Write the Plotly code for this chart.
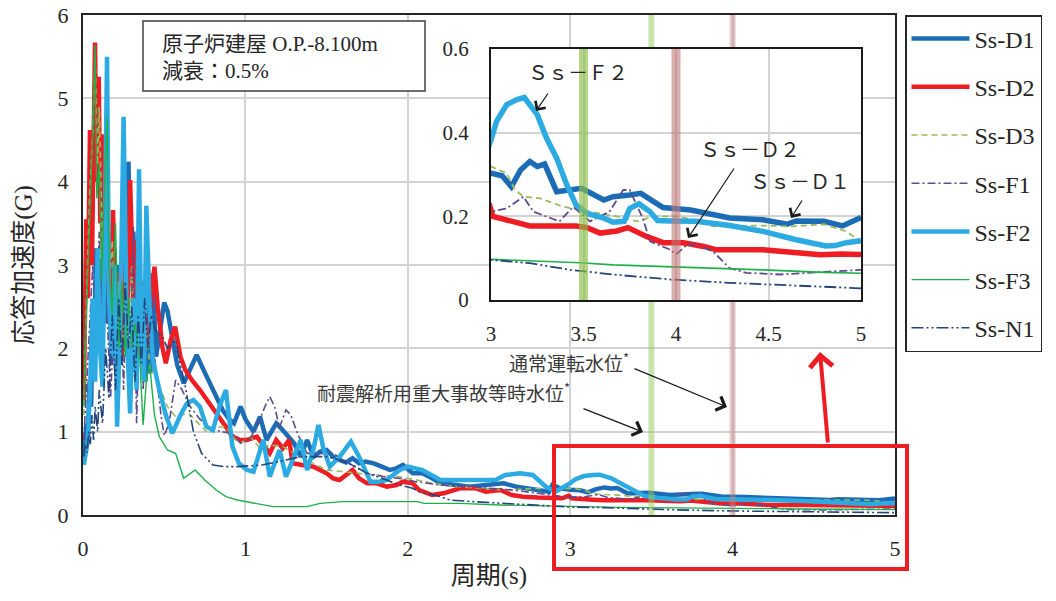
import plotly.graph_objects as go

# ---------------- data ----------------
SERIES_NAMES = ["Ss-D1", "Ss-D2", "Ss-D3", "Ss-F1", "Ss-F2", "Ss-F3", "Ss-N1"]

D1_T = [0.01, 0.02, 0.03, 0.04, 0.05, 0.06, 0.07, 0.08, 0.09, 0.10, 0.115, 0.13, 0.145, 0.16, 0.175,
        0.19, 0.205, 0.22, 0.235, 0.25, 0.265, 0.28, 0.295, 0.31, 0.325, 0.34, 0.355, 0.37, 0.385, 0.40,
        0.415, 0.43, 0.45, 0.47, 0.50, 0.52, 0.55, 0.58, 0.62, 0.66, 0.70, 0.74, 0.78, 0.82, 0.86, 0.90,
        0.93, 0.97, 1.00, 1.03, 1.05, 1.09, 1.13, 1.16, 1.19, 1.22, 1.26, 1.30, 1.34, 1.38, 1.42, 1.46,
        1.50, 1.54, 1.58, 1.62, 1.66, 1.70, 1.74, 1.79, 1.84, 1.89, 1.93, 1.97, 2.03, 2.09, 2.15, 2.20,
        2.30, 2.38, 2.48, 2.59, 2.67, 2.75, 2.81, 2.87, 2.89, 2.94,
        3.00, 3.06, 3.11, 3.16, 3.21, 3.25, 3.29, 3.355, 3.43, 3.49, 3.61, 3.66, 3.75, 3.81, 3.93, 4.08,
        4.29, 4.47, 4.60, 4.65, 4.80, 4.90, 5.00]
D1_G = [0.72, 1.1, 0.9, 1.6, 1.3, 2.4, 1.9, 3.2, 2.2, 3.0, 2.0, 3.4, 2.3, 3.1, 1.8,
        3.2, 2.2, 3.0, 1.9, 3.3, 2.6, 4.24, 2.8, 3.4, 2.2, 3.0, 1.9, 2.8, 1.6, 2.7,
        1.7, 2.9, 1.9, 2.2, 2.55, 2.45, 2.1, 1.8, 1.58, 1.75, 1.92, 1.75, 1.58, 1.42, 1.26, 1.15,
        1.1, 1.3, 1.15, 1.06, 1.0, 1.18, 0.9, 1.0, 1.1, 1.04, 0.94, 0.86, 0.70, 0.90, 0.70, 0.76,
        0.78, 0.70, 0.66, 0.63, 0.68, 0.62, 0.64, 0.62, 0.58, 0.54, 0.56, 0.60, 0.50, 0.50, 0.44, 0.38,
        0.36, 0.34, 0.36, 0.38, 0.34, 0.32, 0.30, 0.28, 0.36, 0.32,
        0.303, 0.297, 0.271, 0.311, 0.331, 0.319, 0.325, 0.259, 0.263, 0.267, 0.239, 0.247, 0.251, 0.255,
        0.221, 0.215, 0.196, 0.192, 0.181, 0.189, 0.188, 0.177, 0.197]

D2_T = [0.005, 0.02, 0.03, 0.043, 0.055, 0.074, 0.085, 0.097, 0.106, 0.115, 0.13, 0.15, 0.17, 0.185,
        0.20, 0.22, 0.24, 0.26, 0.275, 0.29, 0.31, 0.33, 0.35, 0.37, 0.39, 0.42, 0.44, 0.46, 0.49, 0.51,
        0.54, 0.567, 0.60, 0.63, 0.67, 0.72, 0.78, 0.84, 0.88, 0.92, 0.97, 1.01, 1.07, 1.11, 1.15, 1.19,
        1.23, 1.27, 1.29, 1.35, 1.42, 1.46, 1.50, 1.54, 1.58, 1.62, 1.66, 1.70, 1.75, 1.81, 1.87, 1.93,
        1.97, 2.03, 2.07, 2.15, 2.22, 2.32, 2.42, 2.48, 2.57, 2.64, 2.71, 2.80, 2.88, 2.95, 2.99,
        3.01, 3.14, 3.21, 3.46, 3.52, 3.59, 3.68, 3.74, 3.84, 3.93, 4.04, 4.15, 4.22, 4.47, 4.62, 4.78,
        4.89, 5.00]
D2_G = [1.38, 3.55, 2.6, 4.62, 3.0, 5.67, 4.0, 5.26, 3.5, 4.57, 2.6, 3.5, 2.4, 3.66,
        2.2, 2.9, 1.9, 3.2, 2.4, 4.02, 2.6, 3.3, 1.9, 2.8, 2.0, 2.6, 2.98, 2.5, 2.0, 1.82,
        2.1, 2.26, 1.9, 1.74, 1.62, 1.5, 1.34, 1.18, 1.06, 0.94, 0.9, 0.9, 0.94, 0.84, 0.74, 0.9,
        0.8, 0.9, 0.62, 0.6, 0.58, 0.54, 0.5, 0.44, 0.42, 0.48, 0.54, 0.44, 0.38, 0.38, 0.34, 0.36,
        0.40, 0.38, 0.30, 0.24, 0.26, 0.32, 0.32, 0.28, 0.30, 0.24, 0.22, 0.21, 0.20, 0.20, 0.23,
        0.20, 0.184, 0.177, 0.177, 0.173, 0.160, 0.165, 0.173, 0.152, 0.137, 0.137, 0.128, 0.120, 0.120,
        0.113, 0.108, 0.110, 0.109]

D3_T = [0.005, 0.02, 0.04, 0.06, 0.075, 0.09, 0.10, 0.12, 0.14, 0.16, 0.18, 0.20, 0.22, 0.24, 0.26,
        0.28, 0.30, 0.32, 0.34, 0.36, 0.38, 0.40, 0.42, 0.44, 0.48, 0.52, 0.57, 0.65, 0.72, 0.77, 0.82,
        0.88, 0.93, 0.97, 1.03, 1.09, 1.15, 1.23, 1.30, 1.34, 1.42, 1.50, 1.60, 1.70, 1.80, 1.95, 2.05,
        2.16, 2.30, 2.45, 2.60, 2.79, 2.90,
        3.00, 3.085, 3.13, 3.175, 3.265, 3.39, 3.535, 3.68, 3.79, 3.88, 4.02, 4.20, 4.47, 4.62, 4.80,
        4.92, 5.00]
D3_G = [1.2, 2.5, 3.8, 4.6, 5.5, 4.2, 4.9, 3.2, 4.0, 2.6, 3.3, 2.2, 2.8, 1.8, 2.9,
        2.1, 3.0, 1.9, 2.6, 1.7, 2.4, 2.0, 1.7, 1.74, 1.5, 1.3, 1.18, 1.22, 1.08, 0.98, 1.05,
        1.06, 0.92, 0.86, 0.94, 0.80, 0.84, 0.82, 0.74, 0.70, 0.62, 0.54, 0.52, 0.50, 0.48, 0.46, 0.42,
        0.38, 0.34, 0.32, 0.30, 0.32, 0.31,
        0.319, 0.303, 0.263, 0.247, 0.243, 0.223, 0.211, 0.200, 0.188, 0.200, 0.200, 0.176, 0.178, 0.176,
        0.181, 0.164, 0.140]

F1_T = [0.005, 0.02, 0.04, 0.06, 0.08, 0.10, 0.12, 0.14, 0.17, 0.19, 0.21, 0.23, 0.25, 0.27, 0.29,
        0.31, 0.33, 0.35, 0.37, 0.39, 0.41, 0.43, 0.46, 0.48, 0.50, 0.53, 0.57, 0.61, 0.66, 0.72, 0.78,
        0.85, 0.92, 0.97, 1.03, 1.08, 1.12, 1.15, 1.18, 1.21, 1.25, 1.28, 1.32, 1.38, 1.46, 1.54, 1.60,
        1.66, 1.75, 1.85, 1.95, 2.05, 2.20, 2.35, 2.50, 2.65, 2.80, 2.90,
        3.00, 3.085, 3.175, 3.23, 3.37, 3.445, 3.535, 3.64, 3.715, 3.75, 3.82, 3.86, 3.97, 4.00, 4.06,
        4.11, 4.20, 4.29, 4.38, 4.56, 4.83, 5.00]
F1_G = [0.9, 1.5, 2.2, 3.0, 2.2, 3.4, 2.0, 2.8, 1.42, 2.3, 1.6, 2.8, 1.5, 3.0, 1.7,
        3.46, 1.1, 2.7, 1.5, 2.2, 2.94, 2.1, 1.6, 1.2, 0.95, 1.1, 1.62, 1.5, 1.3, 1.15, 1.05,
        1.0, 0.98, 0.86, 0.92, 1.1, 1.3, 1.42, 1.3, 1.05, 1.26, 1.2, 0.98, 0.74, 0.74, 0.74, 0.66,
        0.60, 0.50, 0.46, 0.44, 0.40, 0.36, 0.34, 0.32, 0.30, 0.26, 0.24,
        0.211, 0.219, 0.247, 0.211, 0.188, 0.223, 0.188, 0.211, 0.263, 0.263, 0.196, 0.140, 0.120, 0.109,
        0.132, 0.133, 0.116, 0.076, 0.065, 0.061, 0.068, 0.072]

F2_T = [0.005, 0.015, 0.03, 0.045, 0.06, 0.075, 0.09, 0.105, 0.12, 0.135, 0.148, 0.16, 0.18, 0.195,
        0.21, 0.23, 0.25, 0.27, 0.29, 0.31, 0.33, 0.345, 0.36, 0.375, 0.39, 0.41, 0.43, 0.47, 0.51, 0.55,
        0.60, 0.64, 0.68, 0.72, 0.76, 0.80, 0.84, 0.88, 0.92, 0.96, 1.01, 1.05, 1.08, 1.11, 1.15, 1.21,
        1.25, 1.30, 1.34, 1.38, 1.42, 1.45, 1.48, 1.52, 1.58, 1.65, 1.70, 1.77, 1.82, 1.87, 1.95, 2.00,
        2.09, 2.20, 2.30, 2.54, 2.60, 2.69, 2.77, 2.85, 2.91, 2.95,
        3.00, 3.03, 3.085, 3.14, 3.18, 3.25, 3.30, 3.355, 3.41, 3.46, 3.52, 3.61, 3.66, 3.72, 3.75, 3.80,
        3.86, 3.90, 3.97, 4.11, 4.29, 4.47, 4.65, 4.81, 4.86, 4.92, 5.00]
F2_G = [0.6, 0.75, 0.9, 1.6, 2.6, 1.6, 3.2, 2.0, 1.54, 3.5, 5.5, 2.6, 1.9, 3.0,
        1.06, 2.4, 4.78, 2.2, 1.22, 2.6, 1.5, 4.15, 2.0, 1.6, 3.71, 2.5, 1.86, 1.5, 1.2, 0.98,
        1.2, 1.34, 1.38, 1.3, 1.06, 1.02, 1.3, 1.5, 0.82, 0.62, 0.54, 0.52, 0.70, 0.90, 0.46, 0.78,
        0.46, 0.70, 0.90, 0.54, 0.80, 1.08, 0.80, 0.58, 0.70, 0.88, 0.70, 0.40, 0.40, 0.42, 0.54, 0.58,
        0.54, 0.42, 0.42, 0.42, 0.48, 0.50, 0.48, 0.34, 0.28, 0.32,
        0.383, 0.427, 0.467, 0.479, 0.484, 0.443, 0.387, 0.339, 0.275, 0.227, 0.207, 0.196, 0.186, 0.188,
        0.219, 0.230, 0.211, 0.190, 0.189, 0.188, 0.178, 0.164, 0.144, 0.129, 0.130, 0.137, 0.142]

F3_T = [0.005, 0.02, 0.04, 0.06, 0.074, 0.085, 0.10, 0.115, 0.13, 0.148, 0.16, 0.18, 0.20, 0.22, 0.24,
        0.26, 0.28, 0.30, 0.32, 0.35, 0.37, 0.39, 0.41, 0.44, 0.47, 0.52, 0.57, 0.62, 0.69, 0.75, 0.82,
        0.88, 0.95, 1.01, 1.10, 1.17, 1.38, 1.46, 1.60, 2.06, 2.10, 2.32, 2.57, 2.80,
        3.00, 3.30, 3.48, 3.66, 3.97, 4.24, 4.47, 4.80, 5.00]
F3_G = [1.3, 2.4, 3.5, 4.6, 5.64, 3.8, 4.2, 2.8, 3.8, 4.77, 3.0, 2.4, 3.5, 2.0, 2.8,
        1.9, 2.6, 2.0, 2.3, 1.85, 1.08, 1.6, 1.82, 1.2, 0.94, 0.78, 0.74, 0.44, 0.54, 0.42, 0.30,
        0.22, 0.18, 0.16, 0.13, 0.10, 0.10, 0.14, 0.16, 0.16, 0.14, 0.14, 0.12, 0.11,
        0.097, 0.092, 0.089, 0.084, 0.080, 0.076, 0.072, 0.066, 0.064]

N1_T = [0.005, 0.015, 0.025, 0.035, 0.045, 0.055, 0.065, 0.075, 0.09, 0.10, 0.12, 0.14, 0.16, 0.18,
        0.20, 0.22, 0.24, 0.26, 0.28, 0.30, 0.32, 0.34, 0.36, 0.38, 0.40, 0.42, 0.45, 0.49, 0.52, 0.57,
        0.60, 0.63, 0.68, 0.73, 0.80, 0.87, 0.95, 1.10, 1.20, 1.34, 1.50, 1.58, 1.66, 1.75, 1.87, 1.95,
        2.03, 2.07, 2.20, 2.26, 2.40, 2.57, 2.80,
        3.00, 3.21, 3.43, 3.66, 3.97, 4.29, 4.65, 5.00]
N1_G = [0.7, 0.85, 0.75, 1.0, 0.85, 1.2, 0.9, 1.3, 1.0, 1.5, 1.1, 2.0, 1.4, 2.4,
        1.5, 2.6, 1.8, 2.8, 2.0, 2.5, 1.6, 2.4, 1.8, 2.6, 2.0, 2.4, 2.2, 2.14, 2.0, 2.1,
        1.8, 1.54, 1.0, 0.74, 0.60, 0.58, 0.58, 0.60, 0.64, 0.70, 0.70, 0.66, 0.60, 0.50, 0.42, 0.36,
        0.32, 0.28, 0.22, 0.18, 0.16, 0.14, 0.12,
        0.096, 0.088, 0.072, 0.061, 0.049, 0.041, 0.034, 0.028]

SERIES_T = [D1_T, D2_T, D3_T, F1_T, F2_T, F3_T, N1_T]
SERIES_G = [D1_G, D2_G, D3_G, F1_G, F2_G, F3_G, N1_G]

# water-level periods (耐震解析用重大事故等時水位 / 通常運転水位)
WATER_LEVEL_PERIODS = [3.5, 4.0]

MAIN_X_RANGE = [0, 5]
MAIN_Y_RANGE = [0, 6]
MAIN_X_TICKS = [0, 1, 2, 3, 4, 5]
MAIN_Y_TICKS = [0, 1, 2, 3, 4, 5, 6]
INSET_X_RANGE = [3, 5]
INSET_Y_RANGE = [0, 0.6]
INSET_X_TICKS = [3, 3.5, 4, 4.5, 5]
INSET_X_LABELS = ["3", "3.5", "4", "4.5", "5"]
INSET_Y_TICKS = [0, 0.2, 0.4, 0.6]
INSET_Y_LABELS = ["0", "0.2", "0.4", "0.6"]

# ---------------- styles ----------------
FONT = "Liberation Serif, Noto Sans CJK JP, serif"
CJK = "Noto Sans CJK JP, Liberation Serif"
STYLE = {
    "Ss-D1": dict(color="#1B6CB5", width=4.5, dash="solid", iw=5.5),
    "Ss-D2": dict(color="#EE1D24", width=4.5, dash="solid", iw=5.5),
    "Ss-D3": dict(color="#9BBB59", width=1.6, dash="6px,4px", iw=1.8),
    "Ss-F1": dict(color="#5E4A8C", width=1.6, dash="8px,3px,2px,3px", iw=1.8),
    "Ss-F2": dict(color="#2CAAE2", width=4.5, dash="solid", iw=5.5),
    "Ss-F3": dict(color="#1FB04B", width=1.4, dash="solid", iw=1.6),
    "Ss-N1": dict(color="#25457A", width=1.6, dash="12px,3px,2px,3px,2px,3px", iw=1.8),
}
BAND_MAIN = ["rgba(150,200,90,0.50)", "rgba(200,130,130,0.45)"]
BAND_INSET = ["rgba(140,190,70,0.65)", "rgba(195,120,120,0.60)"]

fig = go.Figure()

# main traces
for name, t, g in zip(SERIES_NAMES, SERIES_T, SERIES_G):
    s = STYLE[name]
    fig.add_trace(go.Scatter(x=t, y=g, mode="lines", name=name, legendgroup=name,
                             line=dict(color=s["color"], width=s["width"], dash=s["dash"]),
                             xaxis="x", yaxis="y"))
# main bands
for p, c in zip(WATER_LEVEL_PERIODS, BAND_MAIN):
    fig.add_trace(go.Scatter(x=[p, p], y=MAIN_Y_RANGE, mode="lines", showlegend=False,
                             hoverinfo="skip", line=dict(color=c, width=6), xaxis="x", yaxis="y"))

# inset traces
for name, t, g in zip(SERIES_NAMES, SERIES_T, SERIES_G):
    s = STYLE[name]
    fig.add_trace(go.Scatter(x=t, y=g, mode="lines", name=name, legendgroup=name, showlegend=False,
                             line=dict(color=s["color"], width=s["iw"], dash=s["dash"]),
                             xaxis="x3", yaxis="y3"))
for p, c in zip(WATER_LEVEL_PERIODS, BAND_INSET):
    fig.add_trace(go.Scatter(x=[p, p], y=INSET_Y_RANGE, mode="lines", showlegend=False,
                             hoverinfo="skip", line=dict(color=c, width=9), xaxis="x3", yaxis="y3"))

# layout geometry (body margin is removed after load, so page px == figure px)
W, H = 1056, 601
ML, MT = 83, 15
PW, PH = 812, 500
MR, MB = W - ML - PW, H - MT - PH


def px(xp):
    return (xp - ML) / PW


def py(yp):
    return (MT + PH - yp) / PH


axis_font = dict(family=FONT, size=22, color="#262626")
fig.update_layout(
    width=W, height=H,
    margin=dict(l=ML, r=MR, t=MT, b=MB, autoexpand=False),
    paper_bgcolor="white", plot_bgcolor="white",
    font=dict(family=FONT, size=20, color="#262626"),
    legend=dict(x=px(905), y=1.0, xanchor="left", yanchor="top",
                bordercolor="#262626", borderwidth=1.5, bgcolor="white",
                font=dict(family=FONT, size=24, color="#262626"),
                itemwidth=58, traceorder="grouped", tracegroupgap=14),
    xaxis=dict(domain=[0, 1], range=MAIN_X_RANGE, tickvals=MAIN_X_TICKS, showgrid=True,
               gridcolor="#D3D3D3", gridwidth=2, showline=True, mirror=True, linecolor="#262626",
               linewidth=2, zeroline=False, ticks="", ticklabelstandoff=13, tickfont=axis_font,
               automargin=False, ticklabeloverflow="allow",
               title=dict(text="周期(s)", standoff=6, font=dict(family=FONT, size=25)), anchor="y"),
    yaxis=dict(domain=[0, 1], range=MAIN_Y_RANGE, tickvals=MAIN_Y_TICKS, showgrid=True,
               gridcolor="#D3D3D3", gridwidth=2, showline=True, mirror=True, linecolor="#262626",
               linewidth=2, zeroline=False, ticks="", ticklabelstandoff=8, tickfont=axis_font,
               automargin=False, ticklabeloverflow="allow",
               title=dict(text="応答加速度(G)", standoff=18, font=dict(family=FONT, size=25)), anchor="x"),
    # blank white box behind the inset
    xaxis2=dict(domain=[px(437), px(881)], range=[0, 1], showgrid=False, zeroline=False,
                showticklabels=False, ticks="", showline=True, mirror=True, linecolor="#404040",
                linewidth=1.5, anchor="y2", fixedrange=True, automargin=False),
    yaxis2=dict(domain=[py(345), py(27)], range=[0, 1], showgrid=False, zeroline=False,
                showticklabels=False, ticks="", showline=True, mirror=True, linecolor="#404040",
                linewidth=1.5, anchor="x2", fixedrange=True, automargin=False),
    # inset
    xaxis3=dict(domain=[px(491), px(861)], range=INSET_X_RANGE, tickvals=INSET_X_TICKS,
                ticktext=INSET_X_LABELS, showgrid=True, gridcolor="#D3D3D3", gridwidth=1.5,
                showline=True, mirror=True, linecolor="#1A1A1A", linewidth=2, zeroline=False,
                ticks="", ticklabelstandoff=14, tickfont=dict(family=FONT, size=21, color="#262626"),
                anchor="y3", automargin=False, ticklabeloverflow="allow"),
    yaxis3=dict(domain=[py(300), py(49)], range=INSET_Y_RANGE, tickvals=INSET_Y_TICKS,
                ticktext=INSET_Y_LABELS, showgrid=True, gridcolor="#D3D3D3", gridwidth=1.5,
                showline=True, mirror=True, linecolor="#1A1A1A", linewidth=2, zeroline=False,
                ticks="", ticklabelstandoff=16, tickfont=dict(family=FONT, size=21, color="#262626"),
                anchor="x3", automargin=False, ticklabeloverflow="allow"),
)

# info box (top-left)
fig.add_shape(type="rect", xref="paper", yref="paper", x0=px(143), x1=px(425), y0=py(91), y1=py(21),
              line=dict(color="#404040", width=1.5), fillcolor="white", layer="above")
fig.add_annotation(xref="paper", yref="paper", x=px(160), y=py(58), xanchor="left", yanchor="middle",
                   align="left", showarrow=False,
                   text="原子炉建屋 O.P.-8.100m<br>減衰：0.5%",
                   font=dict(family=FONT, size=21, color="#262626"))

# water level labels + arrows
ann_font = dict(family=CJK, size=19, color="#3A3A3A")
fig.add_annotation(xref="paper", yref="paper", x=px(631), y=py(362), xanchor="right", yanchor="middle",
                   showarrow=False, text="通常運転水位<sup>*</sup>", font=ann_font)
fig.add_annotation(xref="paper", yref="paper", x=px(572), y=py(392), xanchor="right", yanchor="middle",
                   showarrow=False, text="耐震解析用重大事故等時水位<sup>*</sup>", font=ann_font)
for (hx, hy, tx, ty) in [(727, 407, 633, 368), (643, 432, 582, 408)]:
    fig.add_annotation(xref="paper", yref="paper", x=px(hx), y=py(hy), text="",
                       showarrow=True, axref="pixel", ayref="pixel", ax=tx - hx, ay=ty - hy,
                       arrowhead=4, arrowsize=2.2, arrowwidth=1.3, arrowcolor="#1A1A1A", standoff=0)

# red highlight box + arrow
fig.add_shape(type="rect", xref="paper", yref="paper", x0=px(554), x1=px(907), y0=py(569), y1=py(446),
              line=dict(color="#EE1D24", width=4), layer="above")
fig.add_annotation(xref="paper", yref="paper", x=px(820), y=py(352), text="",
                   showarrow=True, axref="pixel", ayref="pixel", ax=828 - 820, ay=444 - 352,
                   arrowhead=4, arrowsize=1.1, arrowwidth=4, arrowcolor="#EE1D24", standoff=0)

# inset labels
lab_font = dict(family=CJK, size=20, color="#262626")
for (txt, cx, cy) in [("Ｓｓ－Ｆ２", 578, 71), ("Ｓｓ－Ｄ２", 750, 148), ("Ｓｓ－Ｄ１", 800, 181)]:
    fig.add_annotation(xref="paper", yref="paper", x=px(cx), y=py(cy), showarrow=False, text=txt,
                       font=lab_font, xanchor="center", yanchor="middle")
for (hx, hy, tx, ty) in [(536, 111, 549, 92), (688, 238, 735, 167), (791, 218, 803, 199)]:
    fig.add_annotation(xref="paper", yref="paper", x=px(hx), y=py(hy), text="",
                       showarrow=True, axref="pixel", ayref="pixel", ax=tx - hx, ay=ty - hy,
                       arrowhead=4, arrowsize=2.0, arrowwidth=1.2, arrowcolor="#1A1A1A", standoff=0)

fig.write_html("out.html", config={"displayModeBar": False},
               post_script="document.body.style.margin='0px';")
